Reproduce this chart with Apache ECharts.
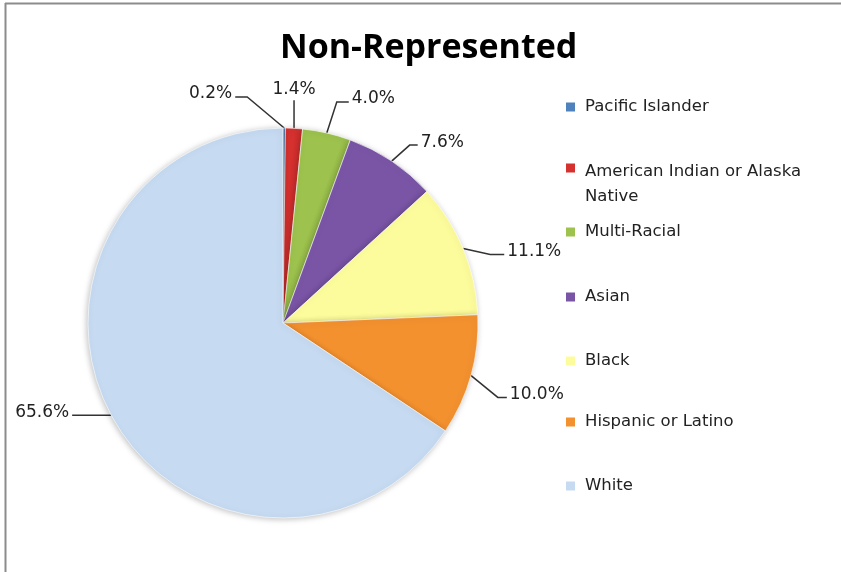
<!DOCTYPE html>
<html>
<head>
<meta charset="utf-8">
<script src="https://cdn.jsdelivr.net/npm/echarts@6/dist/echarts.min.js"></script>
<style>
html,body{margin:0;padding:0;background:#fff;}
#main{width:841px;height:572px;}
</style>
</head>
<body>
<div id="main"></div>
<script>
const titleText = 'Non-Represented';
const categories = ['Pacific Islander', 'American Indian or Alaska Native', 'Multi-Racial', 'Asian', 'Black', 'Hispanic or Latino', 'White'];
const values = [0.2, 1.4, 4.0, 7.6, 11.1, 10.0, 65.6];
const valueLabels = ['0.2%', '1.4%', '4.0%', '7.6%', '11.1%', '10.0%', '65.6%'];
const colors = ['#4F81BD', '#D5312F', '#9DC24D', '#7A55A6', '#FCFC9C', '#F3912F', '#C6DAF1'];

// leader line offsets: [bend dx, bend dy, horizontal length]
const leader = [[-37, -31, -12], [0, -28, 0], [10, -31, 12], [18, -16, 8], [27, 6, 14], [27, 22, 9], [-6, 0, -33]];
// legend icon centre rows
const legendRows = [107, 168, 232, 297, 361, 422, 486];

const chart = echarts.init(document.getElementById('main'), null, {renderer: 'canvas'});
const font = '"DejaVu Sans", "Open Sans", sans-serif';
const titleFont = '"Open Sans", "Liberation Sans", sans-serif';
const legendSize = 16.5;

const legends = categories.map((name, i) => {
  const multi = name === 'American Indian or Alaska Native';
  return {
    data: [name],
    orient: 'vertical',
    left: 566,
    top: multi ? legendRows[i] - 41.5 : legendRows[i] - 10,
    padding: 0,
    itemWidth: 9,
    itemHeight: 9,
    itemGap: 0,
    icon: 'rect',
    selectedMode: false,
    formatter: multi ? '{e| }\n{t|American Indian or Alaska}\n{t|Native}' : '{t|{name}}',
    textStyle: {
      fontFamily: font, fontSize: legendSize, color: '#222', lineHeight: multi ? 25 : 20,
      rich: {
        t: {fontFamily: font, fontSize: legendSize, color: '#222', lineHeight: multi ? 25 : 20, padding: [0, 0, 0, 5]},
        e: {fontFamily: font, fontSize: legendSize, lineHeight: 33}
      }
    },
    itemStyle: {borderWidth: 0}
  };
});

chart.setOption({
  animation: false,
  color: colors,
  title: {
    text: titleText,
    left: 275,
    top: 26,
    textStyle: {fontFamily: titleFont, fontSize: 34, fontWeight: 'bold', color: '#000'}
  },
  legend: legends,
  graphic: [
    {type: 'line', shape: {x1: 5.5, y1: 3, x2: 5.5, y2: 572}, style: {stroke: '#8c8c8c', lineWidth: 2}},
    {type: 'line', shape: {x1: 5, y1: 3.5, x2: 841, y2: 3.5}, style: {stroke: '#8c8c8c', lineWidth: 2}}
  ],
  series: [{
    type: 'pie',
    center: [283, 323],
    radius: [0, 195],
    startAngle: 90,
    clockwise: true,
    avoidLabelOverlap: false,
    data: categories.map((c, i) => ({name: c, value: values[i]})),
    itemStyle: {borderColor: 'rgba(255,255,255,0.6)', borderWidth: 1, shadowBlur: 6, shadowColor: 'rgba(0,0,0,0.25)', shadowOffsetX: -1, shadowOffsetY: 1},
    emphasis: {disabled: true},
    label: {
      show: true,
      position: 'outside',
      formatter: p => valueLabels[p.dataIndex],
      fontFamily: font,
      fontSize: 17,
      color: '#222'
    },
    labelLine: {show: true, length: 20, length2: 10, lineStyle: {color: '#333', width: 1.5}},
    labelLayout: function (params) {
      const o = leader[params.dataIndex];
      const pts = params.labelLinePoints;
      if (!pts) return {};
      const p0 = pts[0];
      const p1 = [p0[0] + o[0], p0[1] + o[1]];
      const p2 = [p1[0] + o[2], p1[1]];
      if (o[2] === 0) {
        return {x: p1[0], y: p1[1] - 2, align: 'center', verticalAlign: 'bottom', labelLinePoints: [p0, p1, p1]};
      }
      return {
        x: p2[0] + (o[2] < 0 ? -3 : 3),
        y: p2[1] - 3,
        align: o[2] < 0 ? 'right' : 'left',
        verticalAlign: 'middle',
        labelLinePoints: [p0, p1, p2]
      };
    }
  }]
});
</script>
</body>
</html>
